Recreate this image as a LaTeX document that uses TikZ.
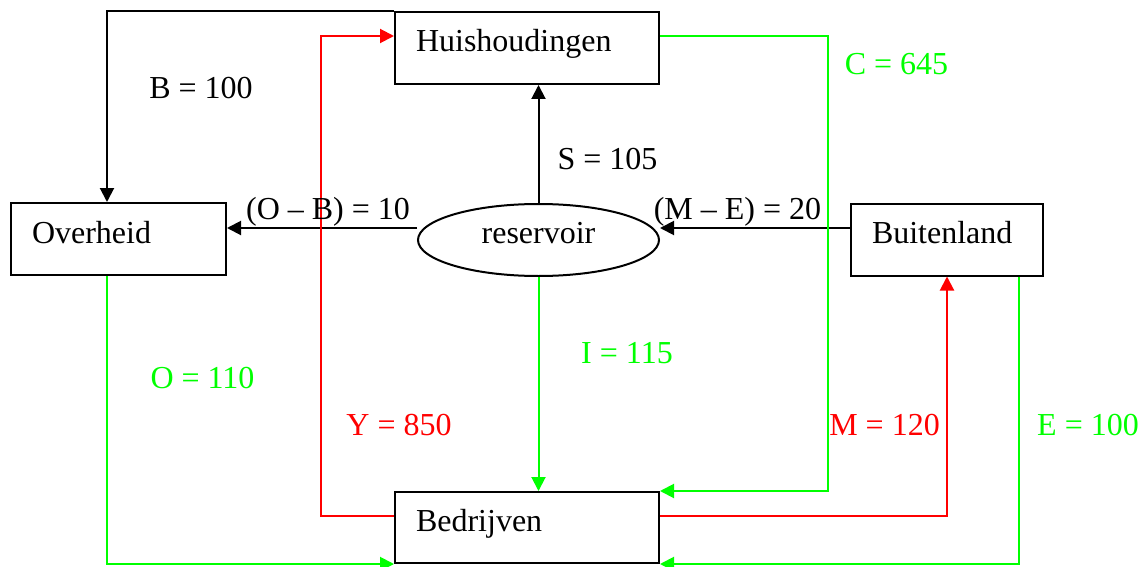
\documentclass[tikz,border=0pt]{standalone}
\usepackage{fontspec}
\setmainfont{Liberation Serif}
\usepackage{xcolor}
\usetikzlibrary{arrows.meta,shapes.geometric,calc}
\tikzset{>={Triangle[length=14pt,width=14pt]}}
\tikzset{sector/.style={draw,line width=2pt,rectangle,minimum height=72pt,inner xsep=21pt,inner ysep=0pt,align=left,text height=22pt,text depth=14pt}}
\tikzset{flow/.style={line width=2pt,->}}
\tikzset{amount/.style={anchor=base,inner sep=0pt}}
\definecolor{flowgreen}{RGB}{0,255,0}
\definecolor{flowred}{RGB}{255,0,0}

\begin{document}
\begin{tikzpicture}[x=1pt,y=-1pt,font=\fontsize{32}{38}\selectfont]
  \useasboundingbox (0,0) rectangle (1146,567);
  % Sectors
  \node[sector,text width=222pt] (hh) at (527,48) {Huishoudingen};
  \node[sector,text width=173pt] (ov) at (118.5,239) {Overheid};
  \node[sector,text width=150pt] (bl) at (947,239.5) {Buitenland};
  \node[sector,text width=222pt,minimum height=71pt] (bd) at (527,527.5) {Bedrijven};
  \node[draw,line width=2pt,ellipse,minimum width=241pt,minimum height=72pt,inner sep=0pt,text height=22pt,text depth=16pt,xshift=3pt] (res) at (535.5,240) {reservoir};
  % Black flows
  \draw[flow] (hh.north west) -| ([xshift=-11.5pt]ov.north);
  \draw[flow] (res.north) -- (res.north |- hh.south);
  \draw[flow] ([yshift=12pt]res.west) -- ([yshift=11pt]ov.east);
  \draw[flow] ([yshift=11.5pt]bl.west) -- ([yshift=12pt]res.east);
  % Red flows
  \draw[flow,flowred] ([yshift=12pt]bd.west) -- ++(-73,0) |- ([yshift=12pt]hh.west);
  \draw[flow,flowred] ([yshift=11.5pt]bd.east) -| (bl.south);
  % Green flows
  \draw[flow,flowgreen] ([yshift=12pt]hh.east) -- ++(168,0) |- (bd.north east);
  \draw[flow,flowgreen] (res.south) -- (res.south |- bd.north);
  \draw[flow,flowgreen] ([xshift=-11.5pt]ov.south) |- (bd.south west);
  \draw[flow,flowgreen] ([xshift=72pt]bl.south) |- (bd.south east);
  % Amounts
  \node[amount] (lb) at (201,99) {B = 100};
  \node[amount] (ls) at (607.5,170) {S = 105};
  \node[amount] (lob) at (328,219) {(O – B) = 10};
  \node[amount] (lme) at (737.5,219) {(M – E) = 20};
  \node[amount,text=flowgreen] (lc) at (896.5,75) {C = 645};
  \node[amount,text=flowgreen] (li) at (627,363) {I = 115};
  \node[amount,text=flowgreen] (lo) at (202.5,388) {O = 110};
  \node[amount,text=flowgreen] (le) at (1088,435) {E = 100};
  \node[amount,text=flowred] (ly) at (399,435) {Y = 850};
  \node[amount,text=flowred] (lm) at (884.5,435) {M = 120};
\end{tikzpicture}
\end{document}
